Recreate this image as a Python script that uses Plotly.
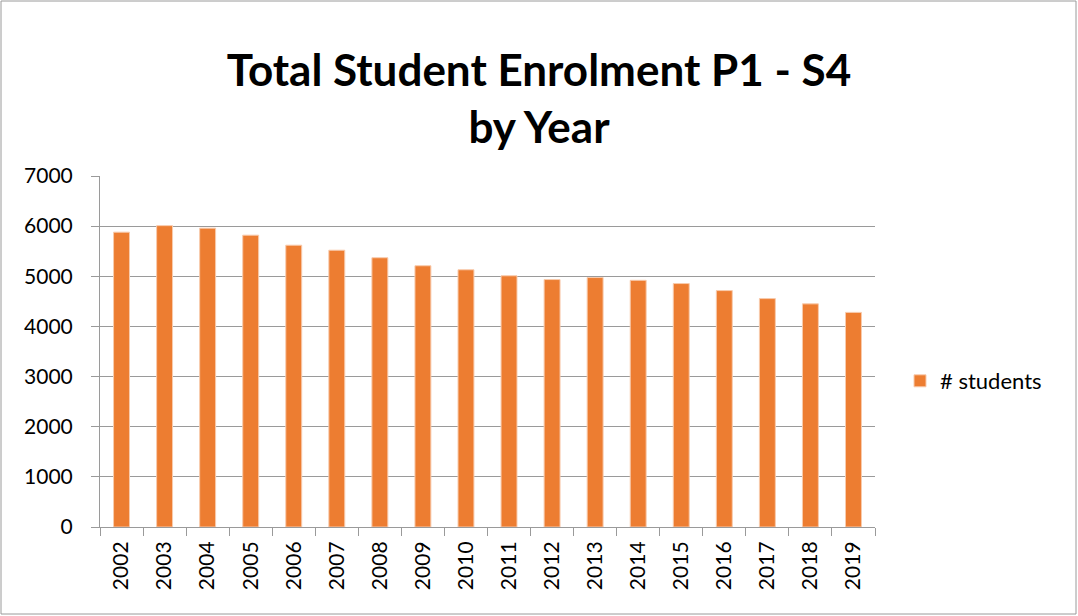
import plotly.graph_objects as go

years = [str(y) for y in range(2002, 2020)]
students = [5880, 6010, 5960, 5820, 5620, 5520, 5370, 5210, 5130,
            5010, 4935, 4975, 4920, 4855, 4715, 4555, 4450, 4280]
y_ticks = [0, 1000, 2000, 3000, 4000, 5000, 6000, 7000]

W, H = 1078, 616
L, R, T, B = 100, 203, 176, 89
pw, ph = W - L - R, H - T - B

def px_x(p):
    return (p - L) / pw

def px_y(p):
    return (H - B - p) / ph

font = "Lato, Calibri, 'Open Sans', sans-serif"

fig = go.Figure()
fig.add_trace(go.Bar(
    x=years, y=students, name="# students",
    marker=dict(color="#ED7D31", line=dict(color="#F8CBAD", width=1)),
    showlegend=True,
))

fig.update_layout(
    width=W, height=H,
    margin=dict(l=L, r=R, t=T, b=B),
    paper_bgcolor="white", plot_bgcolor="white",
    bargap=0.63,
    font=dict(family=font, color="#000000", size=21),
    title=dict(
        text="<b>Total Student Enrolment P1 - S4<br>by Year</b>",
        x=0.5, xref="container", xanchor="center",
        y=1 - 86 / H, yref="container", yanchor="middle",
        font=dict(family=font, size=44, color="#000000"),
    ),
    legend=dict(
        x=px_x(900), y=px_y(381), xanchor="left", yanchor="middle",
        font=dict(size=22), bgcolor="rgba(0,0,0,0)",
        itemwidth=30,
    ),
    xaxis=dict(
        type="category", tickangle=-90,
        showline=True, linecolor="#9a9a9a", linewidth=1,
        ticks="outside", ticklen=8, tickcolor="#9a9a9a", tickson="boundaries",
        showgrid=False, tickfont=dict(size=21), ticklabelstandoff=5,
    ),
    yaxis=dict(
        range=[0, 7000], tickvals=y_ticks,
        showline=True, linecolor="#9a9a9a", linewidth=1,
        ticks="outside", ticklen=8, tickcolor="#9a9a9a",
        showgrid=True, gridcolor="#9a9a9a", gridwidth=1,
        tickfont=dict(size=21), zeroline=False, ticklabelstandoff=14,
    ),
    shapes=[dict(
        type="rect", xref="paper", yref="paper",
        x0=px_x(1), x1=px_x(1076), y0=px_y(614), y1=px_y(1),
        line=dict(color="#9a9a9a", width=1), fillcolor="rgba(0,0,0,0)",
        layer="below",
    )],
)

fig.write_html("out.html", config={"displayModeBar": False},
               post_script="document.body.style.margin='0';")
